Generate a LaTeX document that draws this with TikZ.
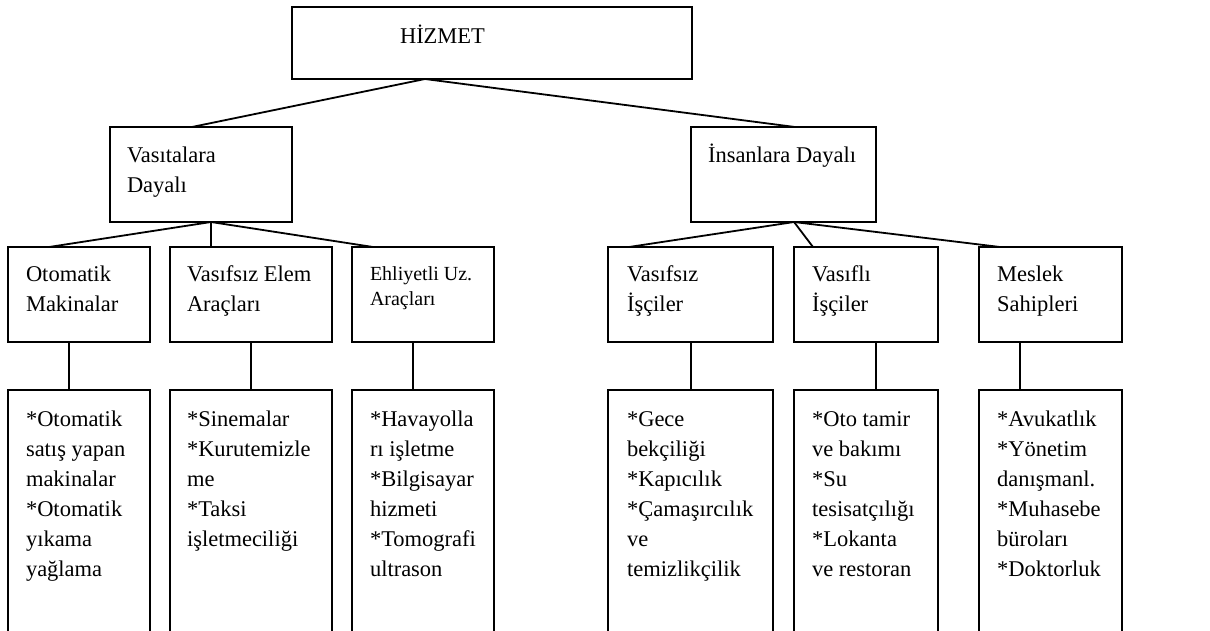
\documentclass[tikz,border=0pt]{standalone}
\usepackage{fontspec}
\setmainfont{Liberation Serif}
\usetikzlibrary{calc}
\newcommand\fs{\rule{0pt}{21pt}}
\newcommand\sfs{\rule{0pt}{18pt}}
\begin{document}
\begin{tikzpicture}[x=1pt,y=-1pt,
  box/.style={draw, line width=1.8pt, inner sep=0pt, outer sep=0pt, anchor=north west},
  txt/.style={inner sep=0pt, outer sep=0pt, anchor=north west, align=left, font=\fontsize{22.5}{30}\selectfont},
  smalltxt/.style={txt, font=\fontsize{20}{25}\selectfont},
  link/.style={line width=1.8pt}]
\useasboundingbox (0,0) rectangle (1210,630);
% level 1
\node[box, minimum width=400, minimum height=72] (hizmet) at (292,7) {};
% level 2
\node[box, minimum width=182, minimum height=95] (vasita) at (110,127) {};
\node[box, minimum width=185, minimum height=95] (insan) at (691,127) {};
% level 3
\node[box, minimum width=142, minimum height=95] (oto) at (8,247) {};
\node[box, minimum width=162, minimum height=95] (vef) at (170,247) {};
\node[box, minimum width=142, minimum height=95] (ehl) at (352,247) {};
\node[box, minimum width=165, minimum height=95] (vis) at (608,247) {};
\node[box, minimum width=144, minimum height=95] (vfl) at (794,247) {};
\node[box, minimum width=143, minimum height=95] (mes) at (979,247) {};
% level 4
\node[box, minimum width=142, minimum height=250] (otoL) at (8,390) {};
\node[box, minimum width=162, minimum height=250] (vefL) at (170,390) {};
\node[box, minimum width=142, minimum height=250] (ehlL) at (352,390) {};
\node[box, minimum width=165, minimum height=250] (visL) at (608,390) {};
\node[box, minimum width=144, minimum height=250] (vflL) at (794,390) {};
\node[box, minimum width=143, minimum height=250] (mesL) at (979,390) {};
% texts
\node[txt] (tHizmet) at (400,22.3) {\fs HİZMET};
\node[txt] (tVasita) at (127,141.3) {\fs Vasıtalara\\Dayalı};
\node[txt] (tInsan) at (708,141.3) {\fs İnsanlara Dayalı};
\node[txt] (tOto) at (26,260.7) {\fs Otomatik\\Makinalar};
\node[txt] (tVef) at (187,260.7) {\fs Vasıfsız Elem\\Araçları};
\node[smalltxt] (tEhl) at (370,262) {\sfs Ehliyetli Uz.\\Araçları};
\node[txt] (tVis) at (627,260.7) {\fs Vasıfsız\\İşçiler};
\node[txt] (tVfl) at (812,260.7) {\fs Vasıflı\\İşçiler};
\node[txt] (tMes) at (997,260.7) {\fs Meslek\\Sahipleri};
\node[txt] (tOtoL) at (26,405) {\fs *Otomatik\\satış yapan\\makinalar\\*Otomatik\\yıkama\\yağlama};
\node[txt] (tVefL) at (187,405) {\fs *Sinemalar\\*Kurutemizle\\me\\*Taksi\\işletmeciliği};
\node[txt] (tEhlL) at (370,405) {\fs *Havayolla\\rı işletme\\*Bilgisayar\\hizmeti\\*Tomografi\\ultrason};
\node[txt] (tVisL) at (627,405) {\fs *Gece\\bekçiliği\\*Kapıcılık\\*Çamaşırcılık\\ve\\temizlikçilik};
\node[txt] (tVflL) at (812,405) {\fs *Oto tamir\\ve bakımı\\*Su\\tesisatçılığı\\*Lokanta\\ve restoran};
\node[txt] (tMesL) at (997,405) {\fs *Avukatlık\\*Yönetim\\danışmanl.\\*Muhasebe\\büroları\\*Doktorluk};
% connectors level 1 -> 2
\draw[link] ($(hizmet.south west)!0.3325!(hizmet.south east)$) -- ($(vasita.north west)!0.45!(vasita.north east)$);
\draw[link] ($(hizmet.south west)!0.3325!(hizmet.south east)$) -- ($(insan.north west)!0.562!(insan.north east)$);
% level 2 -> 3
\draw[link] ($(vasita.south west)!0.555!(vasita.south east)$) -- ($(oto.north west)!0.289!(oto.north east)$);
\draw[link] ($(vasita.south west)!0.555!(vasita.south east)$) -- ($(vef.north west)!0.253!(vef.north east)$);
\draw[link] ($(vasita.south west)!0.555!(vasita.south east)$) -- ($(ehl.north west)!0.148!(ehl.north east)$);
\draw[link] ($(insan.south west)!0.557!(insan.south east)$) -- ($(vis.north west)!0.127!(vis.north east)$);
\draw[link] ($(insan.south west)!0.557!(insan.south east)$) -- ($(vfl.north west)!0.132!(vfl.north east)$);
\draw[link] ($(insan.south west)!0.557!(insan.south east)$) -- ($(mes.north west)!0.147!(mes.north east)$);
% level 3 -> 4
\draw[link] ($(oto.south west)!0.43!(oto.south east)$) coordinate (a1) -- (a1 |- otoL.north);
\draw[link] ($(vef.south west)!0.5!(vef.south east)$) coordinate (a2) -- (a2 |- vefL.north);
\draw[link] ($(ehl.south west)!0.43!(ehl.south east)$) coordinate (a3) -- (a3 |- ehlL.north);
\draw[link] ($(vis.south west)!0.503!(vis.south east)$) coordinate (a4) -- (a4 |- visL.north);
\draw[link] ($(vfl.south west)!0.57!(vfl.south east)$) coordinate (a5) -- (a5 |- vflL.north);
\draw[link] ($(mes.south west)!0.287!(mes.south east)$) coordinate (a6) -- (a6 |- mesL.north);
\end{tikzpicture}
\end{document}
